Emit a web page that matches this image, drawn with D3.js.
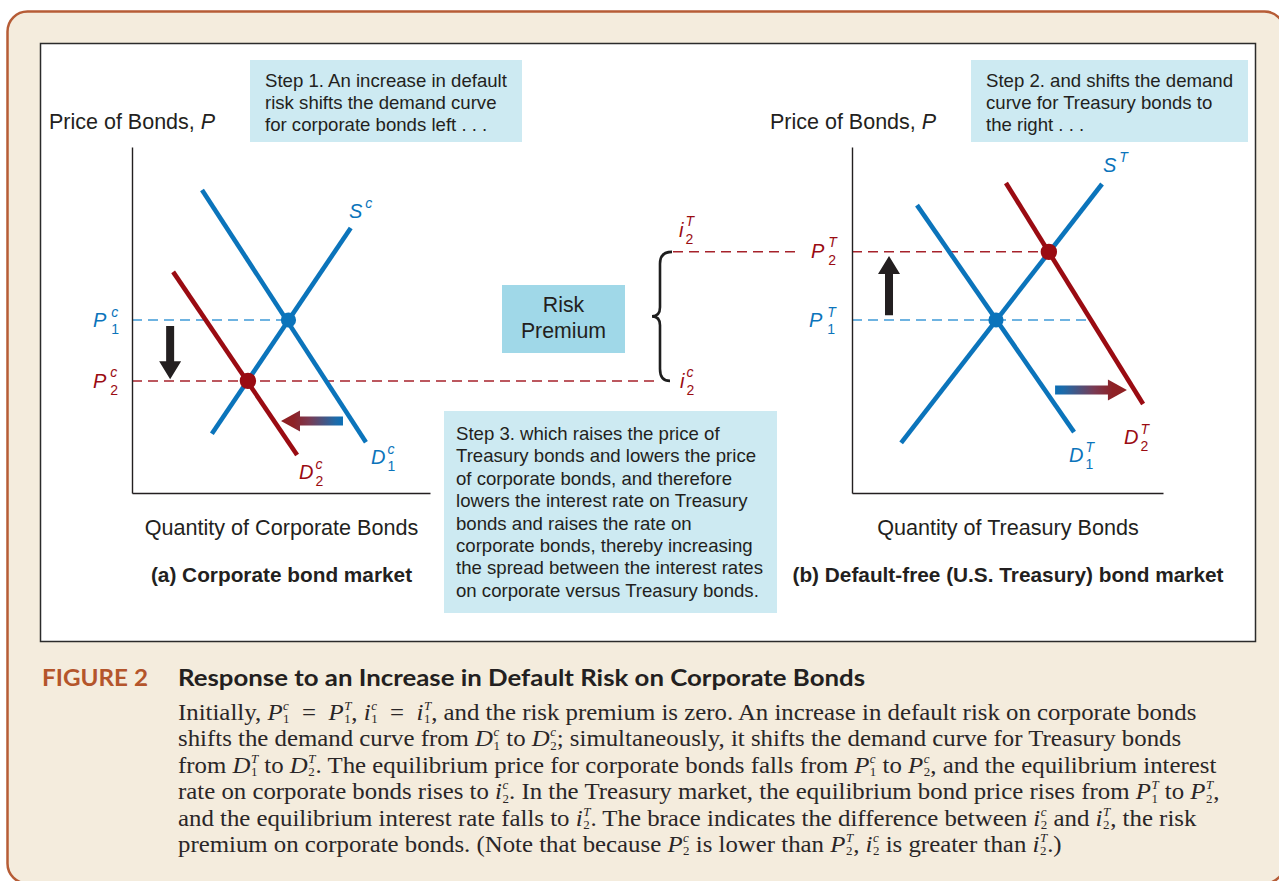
<!DOCTYPE html>
<html>
<head>
<meta charset="utf-8">
<script src="https://cdn.jsdelivr.net/npm/d3@7"></script>
<style>
  html, body { margin: 0; padding: 0; background: #ffffff; }
  svg { display: block; }
</style>
</head>
<body>
<svg id="chart" width="1279" height="881"></svg>
<script>
// ---------------- DATA ----------------
// Panel (a): corporate bond market (units: 0-100 quantity, 0-100 price)
const corpSupply   = [[26.8, 17.1], [73.4, 76.6]];
const corpDemand1  = [[23.5, 87.6], [78.5, 14.7]];
const corpDemand2  = [[13.8, 63.9], [55.4, 11.0]];
const corpEquilibria = [[52.5, 50.0], [38.9, 32.4]];      // E1 (blue), E2 (red)
const corpPriceArrow = [12.8, 48.3, 32.9];                 // x, from y, to y
const corpShiftArrow = [20.8, 70.8, 50.0];                 // y, from x, to x

// Panel (b): Treasury bond market
const tsySupply   = [[15.8, 14.5], [80.4, 89.3]];
const tsyDemand1  = [[20.9, 83.2], [71.4, 17.6]];
const tsyDemand2  = [[49.5, 89.6], [93.6, 25.7]];
const tsyEquilibria = [[46.3, 50.0], [63.3, 69.7]];
const tsyPriceArrow = [11.9, 51.4, 68.5];
const tsyShiftArrow = [29.8, 65.3, 88.4];

const priceLevels = [50.0, 32.4, 69.7];                    // P1 (both), P2c, P2T

// Text
const axisTitles = ["Price of Bonds, ", "P"];
const xTitles = ["Quantity of Corporate Bonds", "Quantity of Treasury Bonds"];
const panelTitles = ["(a) Corporate bond market", "(b) Default-free (U.S. Treasury) bond market"];
const step1 = ["Step 1. An increase in default", "risk shifts the demand curve", "for corporate bonds left . . ."];
const step2 = ["Step 2. and shifts the demand", "curve for Treasury bonds to", "the right . . ."];
const step3 = ["Step 3. which raises the price of", "Treasury bonds and lowers the price",
  "of corporate bonds, and therefore", "lowers the interest rate on Treasury",
  "bonds and raises the rate on", "corporate bonds, thereby increasing",
  "the spread between the interest rates", "on corporate versus Treasury bonds."];
const riskLabel = ["Risk", "Premium"];
const figLabel = "FIGURE 2";
const figTitle = "Response to an Increase in Default Risk on Corporate Bonds";
const captionLines = [
  "Initially, {P|c|1}\u2002=\u2002{P|T|1}, {i|c|1}\u2002=\u2002{i|T|1}, and the risk premium is zero. An increase in default risk on corporate bonds",
  "shifts the demand curve from {D|c|1} to {D|c|2}; simultaneously, it shifts the demand curve for Treasury bonds",
  "from {D|T|1} to {D|T|2}. The equilibrium price for corporate bonds falls from {P|c|1} to {P|c|2}, and the equilibrium interest",
  "rate on corporate bonds rises to {i|c|2}. In the Treasury market, the equilibrium bond price rises from {P|T|1} to {P|T|2},",
  "and the equilibrium interest rate falls to {i|T|2}. The brace indicates the difference between {i|c|2} and {i|T|2}, the risk",
  "premium on corporate bonds. (Note that because {P|c|2} is lower than {P|T|2}, {i|c|2} is greater than {i|T|2}.)"
];

// ---------------- STYLE ----------------
const BLUE = "#0b74bb", RED = "#9a0b12", BLUE_D = "#3f9bd8", RED_D = "#a6222b";
const INK = "#231f20", SANS = "'Liberation Sans', Arial, Helvetica, sans-serif";
const SERIF = "'Liberation Serif', 'Times New Roman', serif";

const svg = d3.select("#chart");
const defs = svg.append("defs");

// Background frame
svg.append("rect").attr("x", 0).attr("y", 0).attr("width", 1279).attr("height", 881).attr("fill", "#ffffff");
svg.append("rect").attr("x", 7.5).attr("y", 11.5).attr("width", 1277).attr("height", 872)
  .attr("rx", 20).attr("fill", "#f4ecdd").attr("stroke", "#b65c36").attr("stroke-width", 2.5);
svg.append("rect").attr("x", 40.5).attr("y", 43.5).attr("width", 1215).attr("height", 598)
  .attr("fill", "#ffffff").attr("stroke", "#2b2b2b").attr("stroke-width", 1.5);

// ---------------- helpers ----------------
function richText(g, x, y, str, o) {
  const fs = o.size, ss = o.subSize || fs * 0.65;
  const up = o.supUp || fs * 0.45, down = o.subDown || fs * 0.3;
  const t = g.append("text").attr("x", x).attr("y", y)
    .attr("font-family", o.family).attr("font-size", fs).attr("fill", o.fill);
  const parts = str.split(/(\{[^}]*\})/).filter(p => p.length);
  let pdx = 0, pdy = 0;
  parts.forEach(p => {
    if (p[0] === "{") {
      const [b, sup, sub] = p.slice(1, -1).split("|");
      t.append("tspan").attr("font-style", "italic").attr("dx", pdx).attr("dy", pdy).text(b);
      const s1 = t.append("tspan").attr("font-style", "italic").attr("font-size", ss)
        .attr("dx", o.gap || 0).attr("dy", -up).text(sup);
      const w1 = s1.node().getComputedTextLength();
      if (sub) {
        const s2 = t.append("tspan").attr("font-size", ss)
          .attr("dx", -w1 + (o.subShift || 0)).attr("dy", up + down).text(sub);
        const w2 = s2.node().getComputedTextLength();
        pdx = Math.max(0, w1 - w2 - (o.subShift || 0)); pdy = -down;
      } else { pdx = 0; pdy = up; }
    } else {
      t.append("tspan").attr("dx", pdx).attr("dy", pdy).attr("xml:space", "preserve").text(p);
      pdx = 0; pdy = 0;
    }
  });
  return t;
}

function drawPanel(g, xs, ys, supply, d1, d2, eq, priceArrow, shiftArrow, gradId) {
  // axes
  g.append("g").attr("transform", `translate(${xs.range()[0]},0)`)
    .call(d3.axisLeft(ys).tickValues([]).tickSizeOuter(0))
    .select(".domain").attr("stroke", INK).attr("stroke-width", 1.4);
  g.append("g").attr("transform", `translate(0,${ys.range()[0]})`)
    .call(d3.axisBottom(xs).tickValues([]).tickSizeOuter(0))
    .select(".domain").attr("stroke", INK).attr("stroke-width", 1.4);
  const line = d3.line().x(d => xs(d[0])).y(d => ys(d[1]));
  // curves
  [[supply, BLUE], [d1, BLUE], [d2, RED]].forEach(([pts, c]) => {
    g.append("path").attr("d", line(pts)).attr("fill", "none").attr("stroke", c).attr("stroke-width", 4.6);
  });
  // black price arrow
  const [ax, ay0, ay1] = priceArrow;
  const dir = ys(ay1) > ys(ay0) ? 1 : -1;
  const headLen = 18, headW = 11, shaftW = 4;
  const xa = xs(ax), ya0 = ys(ay0), ya1 = ys(ay1), yb = ya1 - dir * headLen;
  g.append("path").attr("fill", INK)
    .attr("d", `M${xa - shaftW},${ya0} L${xa + shaftW},${ya0} L${xa + shaftW},${yb} L${xa + headW},${yb} L${xa},${ya1} L${xa - headW},${yb} L${xa - shaftW},${yb} Z`);
  // gradient shift arrow
  const [sy, sx0, sx1] = shiftArrow;
  const xs0 = xs(sx0), xs1 = xs(sx1), yy = ys(sy);
  const hd = xs1 > xs0 ? 1 : -1, hl = 19, hw = 10.5, sw = 4.5;
  const xb = xs1 - hd * hl;
  const gr = defs.append("linearGradient").attr("id", gradId).attr("gradientUnits", "userSpaceOnUse")
    .attr("x1", xs0).attr("x2", xs1).attr("y1", 0).attr("y2", 0);
  gr.append("stop").attr("offset", "0").attr("stop-color", "#0b6fb5");
  gr.append("stop").attr("offset", "0.12").attr("stop-color", "#1f6aa8");
  gr.append("stop").attr("offset", "0.55").attr("stop-color", "#7a3a52");
  gr.append("stop").attr("offset", "0.8").attr("stop-color", "#8e2126");
  gr.append("stop").attr("offset", "1").attr("stop-color", "#8e1f22");
  g.append("path").attr("fill", `url(#${gradId})`)
    .attr("d", `M${xs0},${yy - sw} L${xb},${yy - sw} L${xb},${yy - hw} L${xs1},${yy} L${xb},${yy + hw} L${xb},${yy + sw} L${xs0},${yy + sw} Z`);
}

function dashed(g, x0, x1, y, color) {
  g.append("line").attr("x1", x0).attr("x2", x1).attr("y1", y).attr("y2", y)
    .attr("stroke", color).attr("stroke-width", 1.5).attr("stroke-dasharray", "10,6");
}
function xAtY(pts, yv) {
  const [[x0, y0], [x1, y1]] = pts;
  return x0 + (yv - y0) * (x1 - x0) / (y1 - y0);
}

// ---------------- scales ----------------
const yScale = d3.scaleLinear().domain([0, 100]).range([493, 147]);
const xCorp = d3.scaleLinear().domain([0, 100]).range([132, 430]);
const xTsy = d3.scaleLinear().domain([0, 100]).range([852, 1163]);

const gMain = svg.append("g");

// ---------------- boxes ----------------
gMain.append("rect").attr("x", 250).attr("y", 60).attr("width", 272).attr("height", 82).attr("fill", "#cdeaf2");
gMain.append("rect").attr("x", 971).attr("y", 60).attr("width", 277).attr("height", 82).attr("fill", "#cdeaf2");
gMain.append("rect").attr("x", 444).attr("y", 411).attr("width", 333).attr("height", 202).attr("fill", "#cdeaf2");
gMain.append("rect").attr("x", 502).attr("y", 285).attr("width", 123).attr("height", 68).attr("fill", "#a0d8e8");

function block(lines, x, y0, dy, size, anchor) {
  lines.forEach((s, i) => gMain.append("text").attr("x", x).attr("y", y0 + i * dy)
    .attr("font-family", SANS).attr("font-size", size).attr("fill", INK)
    .attr("text-anchor", anchor || "start").text(s));
}
block(step1, 265, 87, 22, 18.6);
block(step2, 986, 87, 22, 18.6);
block(step3, 456, 440, 22.4, 18.6);
block(riskLabel, 563.5, 312, 25.5, 21.3, "middle");

// ---------------- dashed guide lines ----------------
const P1 = priceLevels[0], P2c = priceLevels[1], P2T = priceLevels[2];
const braceX = 660;
dashed(gMain, xCorp(0), xCorp(corpEquilibria[0][0]), yScale(P1), BLUE_D);
dashed(gMain, xCorp(0), braceX - 3, yScale(P2c), RED_D);
dashed(gMain, xTsy(0), xTsy(xAtY(tsyDemand2, P1)), yScale(P1), BLUE_D);
dashed(gMain, braceX + 13, 800, yScale(P2T), RED_D);
dashed(gMain, xTsy(0), xTsy(tsyEquilibria[1][0]), yScale(P2T), RED_D);

// ---------------- panels ----------------
drawPanel(gMain, xCorp, yScale, corpSupply, corpDemand1, corpDemand2, corpEquilibria, corpPriceArrow, corpShiftArrow, "gradL");
drawPanel(gMain, xTsy, yScale, tsySupply, tsyDemand1, tsyDemand2, tsyEquilibria, tsyPriceArrow, tsyShiftArrow, "gradR");

// equilibrium dots
[[xCorp, corpEquilibria], [xTsy, tsyEquilibria]].forEach(([xs, eq]) => {
  gMain.selectAll(null).data(eq).enter().append("circle")
    .attr("cx", d => xs(d[0])).attr("cy", d => yScale(d[1])).attr("r", (d, i) => i ? 8.2 : 7.6)
    .attr("fill", (d, i) => i ? RED : BLUE);
});

// brace
const yt = yScale(P2T), yb2 = yScale(P2c), ym = (yt + yb2) / 2;
gMain.append("path").attr("fill", "none").attr("stroke", "#1e1e1e").attr("stroke-width", 2.6)
  .attr("d", `M${braceX + 12},${yt} Q${braceX},${yt} ${braceX},${yt + 12} L${braceX},${ym - 9} Q${braceX},${ym} ${braceX - 8},${ym}` +
    ` Q${braceX},${ym} ${braceX},${ym + 9} L${braceX},${yb2 - 12} Q${braceX},${yb2} ${braceX + 10},${yb2}`);

// ---------------- axis titles ----------------
[[49, 129], [770, 129]].forEach(([x, y]) => {
  const t = gMain.append("text").attr("x", x).attr("y", y).attr("font-family", SANS).attr("font-size", 21.5).attr("fill", INK);
  t.append("tspan").text(axisTitles[0]);
  t.append("tspan").attr("font-style", "italic").text(axisTitles[1]);
});
gMain.append("text").attr("x", 281.5).attr("y", 535).attr("text-anchor", "middle").attr("font-family", SANS)
  .attr("font-size", 21.6).attr("fill", INK).text(xTitles[0]);
gMain.append("text").attr("x", 1008).attr("y", 535).attr("text-anchor", "middle").attr("font-family", SANS)
  .attr("font-size", 21.6).attr("fill", INK).text(xTitles[1]);
gMain.append("text").attr("x", 281.5).attr("y", 582).attr("text-anchor", "middle").attr("font-family", SANS)
  .attr("font-size", 20.8).attr("font-weight", "bold").attr("fill", INK).text(panelTitles[0]);
gMain.append("text").attr("x", 1008).attr("y", 582).attr("text-anchor", "middle").attr("font-family", SANS)
  .attr("font-size", 20.8).attr("font-weight", "bold").attr("fill", INK).text(panelTitles[1]);

// ---------------- curve / level labels ----------------
const lab = { size: 20, subSize: 14, supUp: 10.5, subDown: 7, family: SANS };
const labels = [
  ["{P|c|1}", 93, yScale(P1) + 7, BLUE, 5],
  ["{P|c|2}", 93, yScale(P2c) + 7, RED, 4],
  ["{P|T|1}", 809, yScale(P1) + 7, BLUE, 5],
  ["{P|T|2}", 811, yScale(P2T) + 6, RED, 4],
  ["{i|T|2}", 679, yScale(P2T) - 15, RED, 2],
  ["{i|c|2}", 680, yScale(P2c) + 7, RED, 2],
  ["{S|c|}", 349, 218, BLUE, 3],
  ["{S|T|}", 1103, 172, BLUE, 3],
  ["{D|c|1}", 371, 464, BLUE, 2],
  ["{D|c|2}", 299, 479, RED, 2],
  ["{D|T|1}", 1069, 462, BLUE, 2],
  ["{D|T|2}", 1124, 444, RED, 2]
];
labels.forEach(([s, x, y, c, gap]) => richText(gMain, x, y, s, Object.assign({}, lab, { fill: c, gap: gap })));

// ---------------- caption ----------------
svg.append("text").attr("x", 42).attr("y", 686).attr("font-family", "Lato, 'Open Sans', sans-serif")
  .attr("font-weight", 700).attr("font-size", 23).attr("fill", "#b4552b")
  .attr("textLength", 106).attr("lengthAdjust", "spacingAndGlyphs").text(figLabel);
svg.append("text").attr("x", 178).attr("y", 686).attr("font-family", "Lato, 'Open Sans', sans-serif")
  .attr("font-weight", 700).attr("font-size", 23).attr("fill", INK)
  .attr("textLength", 687).attr("lengthAdjust", "spacingAndGlyphs").text(figTitle);
const gCap = svg.append("g").attr("transform", "translate(178,0) scale(1.08,1) translate(-178,0)");
captionLines.forEach((s, i) => richText(gCap, 178, 720 + i * 26.4, s,
  { size: 23, subSize: 12, supUp: 10, subDown: 3.4, family: SERIF, fill: "#2a2627", gap: 0.5 }));
</script>
</body>
</html>
